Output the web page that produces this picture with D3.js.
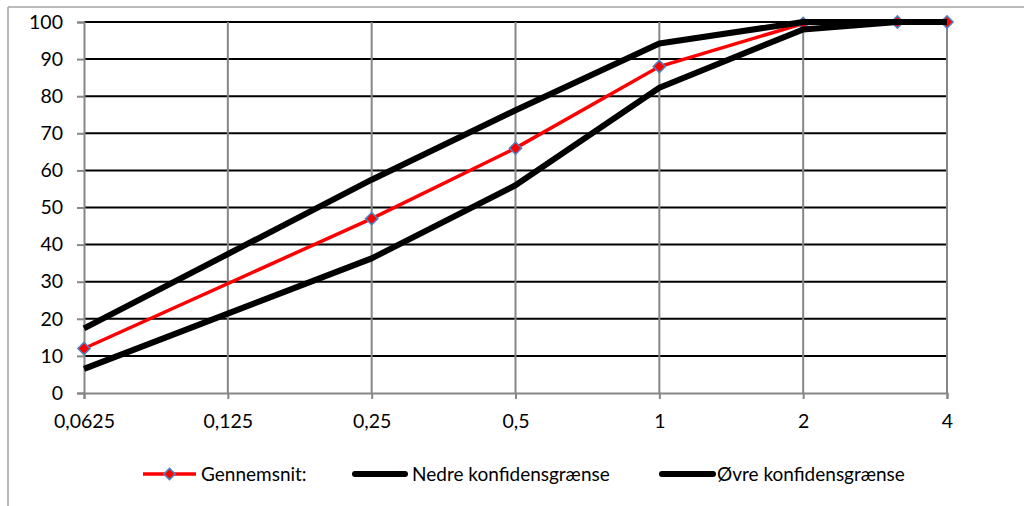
<!DOCTYPE html>
<html>
<head>
<meta charset="utf-8">
<script src="https://cdn.jsdelivr.net/npm/d3@7"></script>
<style>
  body{margin:0;background:#fff;}
  svg{display:block;font-family:Lato,"Liberation Sans",sans-serif;}
</style>
</head>
<body>
<svg id="chart" width="1024" height="506"></svg>
<script>
// sieve sizes (mm) and passing percentages
const sizes = [0.0625, 0.25, 0.5, 1, 2, 3.15, 4];
const mean = [12, 47, 66, 88, 99.6, 100, 100];
const lower = [6.5, 36.3, 56, 82.3, 98, 100, 100];
const upper = [17.4, 57.5, 76.2, 94.2, 100, 100, 100];
const xTicks = [0.0625, 0.125, 0.25, 0.5, 1, 2, 4];
const yTicks = [0, 10, 20, 30, 40, 50, 60, 70, 80, 90, 100];
const seriesNames = ['Gennemsnit:', 'Nedre konfidensgrænse', 'Øvre konfidensgrænse'];

const svg = d3.select('#chart');
const x = d3.scaleLog().base(2).domain([0.0625, 4]).range([84, 947]);
const y = d3.scaleLinear().domain([0, 100]).range([393, 22]);
const fmt = d => String(d).replace('.', ',');
const FONT = 'Lato,"Liberation Sans",sans-serif';

// outer frame (only top/left visible in the crop)
svg.append('line').attr('x1',8).attr('y1',7).attr('x2',1024).attr('y2',7).attr('stroke','#a6a6a6').attr('stroke-width',1.5);
svg.append('line').attr('x1',8).attr('y1',7).attr('x2',8).attr('y2',506).attr('stroke','#a6a6a6').attr('stroke-width',1.5);

// horizontal gridlines
svg.append('g').selectAll('line').data(yTicks.filter(d=>d>0)).enter().append('line')
  .attr('x1',x(0.0625)).attr('x2',x(4))
  .attr('y1',d=>y(d)).attr('y2',d=>y(d))
  .attr('stroke','#000').attr('stroke-width',2);

// vertical gridlines
svg.append('g').selectAll('line').data(xTicks.slice(1)).enter().append('line')
  .attr('x1',d=>x(d)).attr('x2',d=>x(d))
  .attr('y1',y(100)).attr('y2',y(0))
  .attr('stroke','#868686').attr('stroke-width',2);

// axes
const yAxis = svg.append('g').attr('transform',`translate(${x(0.0625)},0)`)
  .call(d3.axisLeft(y).tickValues(yTicks).tickSize(7).tickPadding(14).tickFormat(d3.format('d')));
const xAxis = svg.append('g').attr('transform',`translate(0,${y(0)})`)
  .call(d3.axisBottom(x).tickValues(xTicks).tickSize(6).tickPadding(15).tickFormat(fmt));
[yAxis, xAxis].forEach(a=>{
  a.select('.domain').attr('stroke','#868686').attr('stroke-width',2);
  a.selectAll('.tick line').attr('stroke','#868686').attr('stroke-width',2);
  a.selectAll('.tick text').attr('fill','#000').style('font-size','19.5px').style('font-family',FONT);
});

const line = d3.line().x(d=>x(d[0])).y(d=>y(d[1]));
const diamond = d3.symbol().type(d3.symbolDiamond2).size(95);

// mean series (red, diamond markers)
const meanData = d3.zip(sizes, mean);
svg.append('path').datum(meanData).attr('d',line)
  .attr('fill','none').attr('stroke','#ff0000').attr('stroke-width',3.5);
svg.append('g').selectAll('path').data(meanData).enter().append('path')
  .attr('d',diamond)
  .attr('transform',d=>`translate(${x(d[0])},${y(d[1])})`)
  .attr('fill','#ff0000').attr('stroke','#4f81bd').attr('stroke-width',1.5);

// confidence bounds (thick black)
[lower, upper].forEach(vals=>{
  svg.append('path').datum(d3.zip(sizes, vals)).attr('d',line)
    .attr('fill','none').attr('stroke','#000').attr('stroke-width',6)
    .attr('stroke-linejoin','round');
});

// legend
const LY = 474;
const legend = [
  {name:seriesNames[0], x1:143, x2:196, tx:201, color:'#ff0000', w:3.5, marker:true},
  {name:seriesNames[1], x1:355, x2:405, tx:412, color:'#000', w:6, marker:false},
  {name:seriesNames[2], x1:662, x2:713, tx:717, color:'#000', w:6, marker:false}
];
const lg = svg.append('g').selectAll('g').data(legend).enter().append('g');
lg.append('line').attr('x1',d=>d.x1).attr('x2',d=>d.x2).attr('y1',LY).attr('y2',LY)
  .attr('stroke',d=>d.color).attr('stroke-width',d=>d.w).attr('stroke-linecap',d=>d.marker?'butt':'round');
lg.filter(d=>d.marker).append('path').attr('d',d3.symbol().type(d3.symbolDiamond2).size(80))
  .attr('transform',d=>`translate(${(d.x1+d.x2)/2},${LY})`)
  .attr('fill','#ff0000').attr('stroke','#4f81bd').attr('stroke-width',1.5);
lg.append('text').attr('x',d=>d.tx).attr('y',LY).attr('dy','0.35em')
  .style('font-size','19px').text(d=>d.name);
</script>
</body>
</html>
